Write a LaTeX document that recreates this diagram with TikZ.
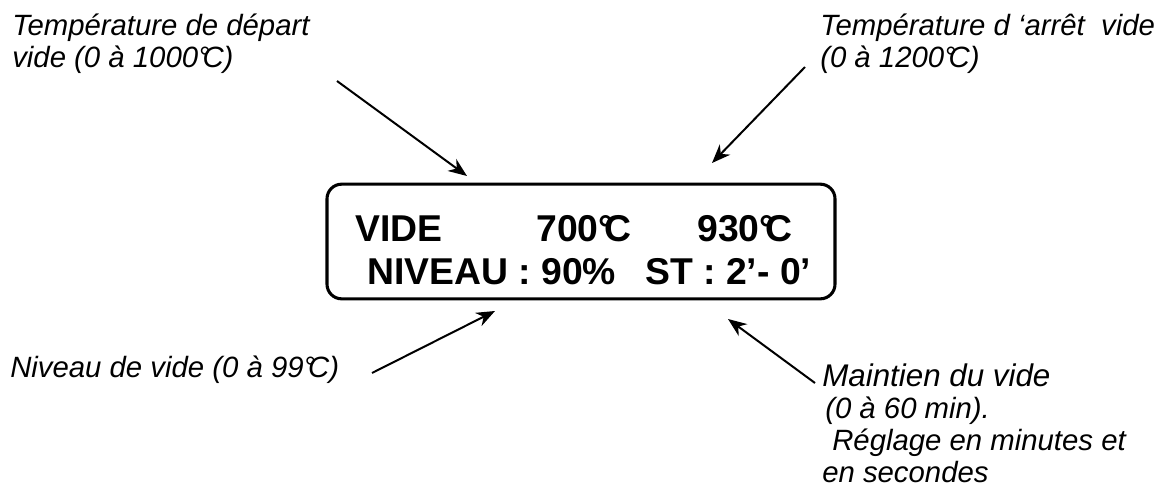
\documentclass[tikz,border=0pt]{standalone}
\usepackage{fontspec}
\setmainfont{Liberation Sans}
\usetikzlibrary{arrows.meta}
% degree Celsius built from a degree sign tucked against a C
\newcommand{\degC}{°\kern-0.25em C}
\tikzset{
  lcd/.style={draw, line width=2.3pt, rounded corners=11pt, minimum width=381pt, minimum height=86pt, inner sep=0pt},
  big/.style={anchor=base west, inner sep=0pt, font=\fontsize{28}{32}\selectfont\bfseries},
  note/.style={anchor=base west, inner sep=0pt, font=\fontsize{22}{24}\selectfont\itshape},
  bignote/.style={note, font=\fontsize{23.5}{26}\selectfont\itshape},
  pointer/.style={line width=1.5pt, -{Stealth[length=14pt, width=11pt, inset=4.5pt]}}
}
\begin{document}
\begin{tikzpicture}[x=0.75pt, y=-0.75pt]
\useasboundingbox (0,0) rectangle (1161,493);

% display panel
\node[lcd] (panel) at (581,241.5) {};
\node[big] (mode) at (355,241) {VIDE};
\node[big] (tstart) at (536,241) {700\degC};
\node[big] (tstop) at (697,241) {930\degC};
\node[big] (level) at (367,284) {NIVEAU : 90\%};
\node[big] (hold) at (645,284) {ST : 2’- 0’};

% descriptions
\node[note] (n1a) at (12,35) {Température de départ};
\node[note] (n1b) at (12,67) {vide (0 à 1000\degC)};
\node[note] (n2a) at (820,35) {Température d ‘arrêt\ \ vide};
\node[note] (n2b) at (820,67) {(0 à 1200\degC)};
\node[note] (n3) at (10,377) {Niveau de vide (0 à 99\degC)};
\node[bignote] (n4a) at (822,386) {Maintien du vide};
\node[note] (n4b) at (825,418) {(0 à 60 min).};
\node[note] (n4c) at (832,450) {Réglage en minutes et};
\node[note] (n4d) at (822,482) {en secondes};

% arrow ends
\coordinate (a1s) at (337,81);
\coordinate (a1e) at (467,176);
\coordinate (a2s) at (805,67);
\coordinate (a2e) at (712,163);
\coordinate (a3s) at (372,373);
\coordinate (a3e) at (495,311);
\coordinate (a4s) at (815,383);
\coordinate (a4e) at (728,319);

\draw[pointer] (a1s) -- (a1e);
\draw[pointer] (a2s) -- (a2e);
\draw[pointer] (a3s) -- (a3e);
\draw[pointer] (a4s) -- (a4e);
\end{tikzpicture}
\end{document}
